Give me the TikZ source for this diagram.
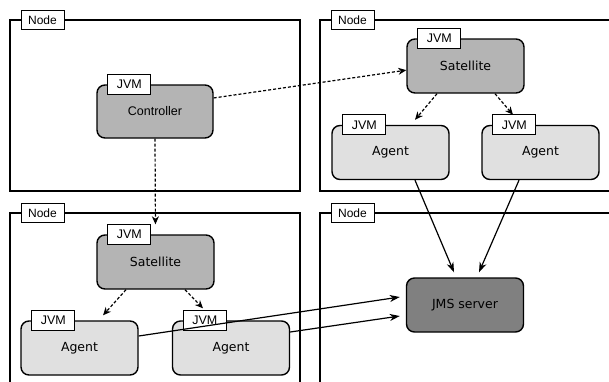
\documentclass[tikz,border=0pt]{standalone}
\usepackage{fontspec}
\setmainfont{DejaVu Sans}
\newfontfamily\arialfont{Liberation Sans}
\usetikzlibrary{calc,arrows.meta}
\definecolor{midgray}{RGB}{180,180,180}
\definecolor{lightgray}{RGB}{224,224,224}
\definecolor{darkgray}{RGB}{128,128,128}
\tikzset{
  frame/.style={draw=black, line width=1.3pt},
  framelbl/.style={draw=black, fill=white, line width=1pt, minimum width=43pt, minimum height=19pt, inner sep=0pt, font=\arialfont\fontsize{12}{14}\selectfont},
  jvm/.style={draw=black, fill=white, line width=1pt, minimum width=43pt, minimum height=20pt, inner sep=0pt, anchor=west, font=\arialfont\fontsize{12.5}{14}\selectfont},
  proc/.style={draw=black, line width=1.4pt, rounded corners=8pt, minimum width=117pt, minimum height=54pt, inner sep=0pt, font=\fontsize{12.5}{15}\selectfont},
  dasharrow/.style={line width=1.2pt, dash pattern=on 3pt off 2pt, -{Stealth[length=8pt,width=7pt,inset=2.5pt]}},
  solidarrow/.style={line width=1.2pt, -{Stealth[length=10pt,width=7pt,inset=3pt]}}
}
\begin{document}
\begin{tikzpicture}[x=1pt,y=-1pt]
\useasboundingbox (0,0) rectangle (609,381);
\clip (0,0) rectangle (609,381);
\fill[white] (0,0) rectangle (609,381);
% frames
\draw[frame] (10,20) rectangle (300,191);
\draw[frame] (320,20) rectangle (650,191);
\draw[frame] (10,213) rectangle (300,420);
\draw[frame] (320,213) rectangle (650,420);
\node[framelbl] (l1) at (42.5,20) {Node};
\node[framelbl] (l2) at (352.5,20) {Node};
\node[framelbl] (l3) at (42.5,213) {Node};
\node[framelbl] (l4) at (352.5,213) {Node};
% processes
\node[proc, fill=midgray, minimum width=116pt, minimum height=53pt, font=\arialfont\fontsize{12.5}{15}\selectfont] (ctrl) at (155,111.5) {Controller};
\node[proc, fill=midgray] (satTR) at (465.5,66) {Satellite};
\node[proc, fill=lightgray] (agTR1) at (390.5,152.5) {Agent};
\node[proc, fill=lightgray] (agTR2) at (540.5,152.5) {Agent};
\node[proc, fill=midgray] (satBL) at (155.5,262) {Satellite};
\node[proc, fill=lightgray] (agBL1) at (79.5,348) {Agent};
\node[proc, fill=lightgray] (agBL2) at (231,348) {Agent};
\node[proc, fill=darkgray] (jms) at (465,305) {JMS server};
% JVM labels
\foreach \n in {ctrl,satTR,agTR1,agTR2,satBL,agBL1,agBL2}{
  \node[jvm] (\n J) at ($(\n.north west)+(11,0)$) {JVM};
}
% dashed connectors
\draw[dasharrow] (ctrl.13) -- (satTR.184);
\draw[dasharrow, shorten >=10pt] (ctrl.south) -- (satBL.north);
\draw[dasharrow] ($(satTR.south)+(-28.5,0)$) -- ($(agTR1.north)+(24.5,-5)$);
\draw[dasharrow] ($(satTR.south)+(29.5,0)$) -- ($(agTR2.north)+(-27.5,-10)$);
\draw[dasharrow] ($(satBL.south)+(-29.5,0)$) -- ($(agBL1.north)+(23.5,-5)$);
\draw[dasharrow] ($(satBL.south)+(29.5,0)$) -- ($(agBL2.north)+(-28,-12)$);
% solid connectors
\draw[solidarrow] ($(agTR1.south)+(24.5,0)$) -- ($(jms.north)+(-11,-5)$);
\draw[solidarrow] ($(agTR2.south)+(-21.5,0)$) -- ($(jms.north)+(14,-5)$);
\draw[solidarrow] ($(agBL1.east)+(0,-12)$) -- ($(jms.west)+(-6,-8)$);
\draw[solidarrow] ($(agBL2.east)+(0,-16)$) -- ($(jms.west)+(-6,11)$);
\end{tikzpicture}
\end{document}
